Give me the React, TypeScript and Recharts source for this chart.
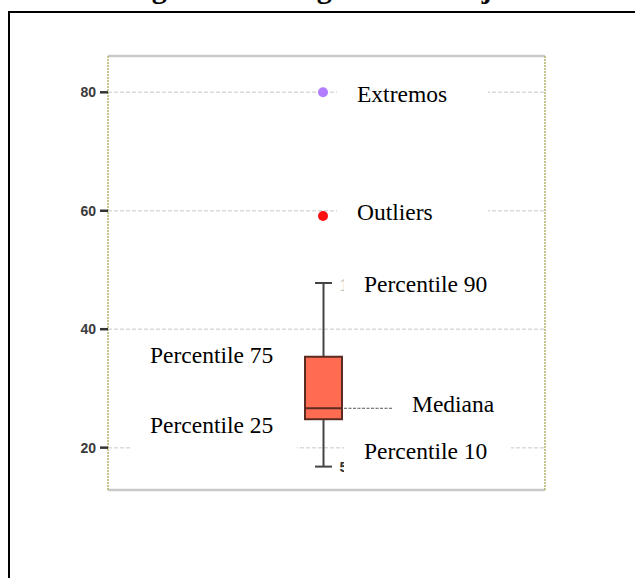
import React from "react";
import {
  ComposedChart,
  Bar,
  Line,
  XAxis,
  YAxis,
  CartesianGrid,
  ReferenceLine,
} from "recharts";

// ---- data ----
const categories = ["Caso"];
const percentile10 = [16.8];
const percentile25 = [24.8];
const medianValues = [26.65];
const percentile75 = [35.35];
const percentile90 = [47.8];
const outlierValues = [59.1];
const extremeValues = [80];
const yTicks = [20, 40, 60, 80];
const yDomain = [12.85, 86.13];
const titleText = "Figura 2.1. Diagrama de Caja";
const annotationTexts = [
  "Extremos",
  "Outliers",
  "Percentile 90",
  "Percentile 75",
  "Mediana",
  "Percentile 25",
  "Percentile 10",
];

const chartData = categories.map((c, i) => ({
  cat: c,
  p10: percentile10[i],
  q1: percentile25[i],
  med: medianValues[i],
  q3: percentile75[i],
  p90: percentile90[i],
  outlier: outlierValues[i],
  extreme: extremeValues[i],
}));

// ---- layout (annotation placement) ----
const ANNOT_POS = [
  { x: 357, y: 101.5 },
  { x: 357, y: 219.5 },
  { x: 364, y: 291.5 },
  { x: 150, y: 363 },
  { x: 412, y: 411.5 },
  { x: 150, y: 433 },
  { x: 364, y: 459 },
];
const WHITE_BOXES = [
  { x: 337, y: 68, w: 151, h: 50 },
  { x: 337, y: 188, w: 151, h: 50 },
  { x: 130, y: 400, w: 167, h: 55 },
  { x: 344, y: 437, w: 167, h: 42 },
  { x: 344, y: 262, w: 170, h: 42 },
];

const BoxShape = (props: any) => {
  const { x, y, width, height, payload } = props;
  if (x == null || y == null) return null;
  const top = Math.min(y, y + height);
  const bottom = Math.max(y, y + height);
  const hi = payload.p90;
  const lo = payload.p10;
  const px = (v: number) => top + ((hi - v) / (hi - lo)) * (bottom - top);
  const cx = x + width / 2;
  const capHalf = 8.5;
  const yq3 = px(payload.q3);
  const yq1 = px(payload.q1);
  const ym = px(payload.med);
  return (
    <g>
      <line x1={cx} x2={cx} y1={top} y2={yq3} stroke="#444" strokeWidth={2} />
      <line x1={cx} x2={cx} y1={yq1} y2={bottom} stroke="#444" strokeWidth={2} />
      <line x1={cx - capHalf} x2={cx + capHalf} y1={top} y2={top} stroke="#444" strokeWidth={2} />
      <line x1={cx - capHalf} x2={cx + capHalf} y1={bottom} y2={bottom} stroke="#444" strokeWidth={2} />
      <rect
        x={x}
        y={yq3}
        width={width}
        height={yq1 - yq3}
        fill="#ff6c52"
        stroke="#5b2a22"
        strokeWidth={2}
      />
      <line x1={x} x2={x + width} y1={ym} y2={ym} stroke="#5b2a22" strokeWidth={2} />
      <line
        x1={x + width + 2}
        x2={x + width + 50}
        y1={ym}
        y2={ym}
        stroke="#555"
        strokeWidth={1}
        strokeDasharray="3 1.5"
      />
    </g>
  );
};

export default function App() {
  const serif = "'Liberation Serif', 'Times New Roman', serif";
  return (
    <div style={{ position: "absolute", left: 0, top: 0, width: 635, height: 578, background: "#fff" }}>
      <div style={{ position: "absolute", left: 0, top: 0 }}>
        <ComposedChart
          width={635}
          height={578}
          data={chartData}
          margin={{ top: 56, right: 50, bottom: 88, left: 68 }}
        >
          <CartesianGrid
            xAxisId="bottom"
            yAxisId="left"
            vertical={false}
            stroke="#dadada"
            strokeWidth={1.5}
            strokeDasharray="4 2"
          />
          <XAxis
            xAxisId="bottom"
            dataKey="cat"
            type="category"
            height={0}
            tick={false}
            tickLine={false}
            axisLine={false}
            padding={{ left: 0, right: 7 }}
          />
          <YAxis
            yAxisId="left"
            width={40}
            domain={yDomain}
            ticks={yTicks}
            allowDataOverflow
            tickSize={8}
            tickMargin={4}
            tickLine={{ stroke: "#333", strokeWidth: 2.5 }}
            axisLine={{ stroke: "#b4b46e", strokeWidth: 1.5, strokeDasharray: "2 1" }}
            tick={{
              fill: "#3a3a3a",
              fontSize: 14,
              fontWeight: "bold",
              fontFamily: "'Liberation Sans', Arial, sans-serif",
            }}
          />
          <YAxis
            yAxisId="right"
            orientation="right"
            width={40}
            domain={yDomain}
            ticks={yTicks}
            allowDataOverflow
            tick={false}
            tickLine={false}
            axisLine={{ stroke: "#b4b46e", strokeWidth: 1.5, strokeDasharray: "2 1" }}
          />
          <ReferenceLine
            xAxisId="bottom"
            yAxisId="left"
            y={yDomain[1]}
            stroke="#c9c9c9"
            strokeWidth={2.5}
            ifOverflow="visible"
          />
          <ReferenceLine
            xAxisId="bottom"
            yAxisId="left"
            y={yDomain[0]}
            stroke="#c9c9c9"
            strokeWidth={2.5}
            ifOverflow="visible"
          />
          <Bar
            xAxisId="bottom"
            yAxisId="left"
            dataKey={(d: any) => [d.p10, d.p90]}
            barSize={37}
            shape={BoxShape}
            isAnimationActive={false}
          />
          <Line
            xAxisId="bottom"
            yAxisId="left"
            dataKey="outlier"
            stroke="none"
            dot={{ r: 5, fill: "#ff1010", stroke: "none" }}
            activeDot={false}
            isAnimationActive={false}
          />
          <Line
            xAxisId="bottom"
            yAxisId="left"
            dataKey="extreme"
            stroke="none"
            dot={{ r: 5, fill: "#b27dff", stroke: "none" }}
            activeDot={false}
            isAnimationActive={false}
          />
        </ComposedChart>
      </div>
      <svg
        width={635}
        height={578}
        style={{ position: "absolute", left: 0, top: 0, pointerEvents: "none" }}
      >
        <text x={125} y={-2} fontFamily={serif} fontWeight="bold" fontSize={30} fill="#000">
          {titleText}
        </text>
        <line x1={9} x2={640} y1={12} y2={12} stroke="#000" strokeWidth={2} />
        <line x1={9} x2={9} y1={11} y2={580} stroke="#000" strokeWidth={2} />
        <text x={339.5} y={472} fontFamily="'Liberation Sans', Arial, sans-serif" fontWeight="bold" fontSize={15} fill="#333">
          5
        </text>
        <text x={339.5} y={291} fontFamily="'Liberation Sans', Arial, sans-serif" fontSize={17} fill="#c8c8c8">
          1
        </text>
        {WHITE_BOXES.map((b, i) => (
          <rect key={i} x={b.x} y={b.y} width={b.w} height={b.h} fill="#fff" />
        ))}
        {annotationTexts.map((t, i) => (
          <text
            key={t}
            x={ANNOT_POS[i].x}
            y={ANNOT_POS[i].y}
            fontFamily={serif}
            fontSize={23.5}
            fill="#000"
          >
            {t}
          </text>
        ))}
      </svg>
    </div>
  );
}
